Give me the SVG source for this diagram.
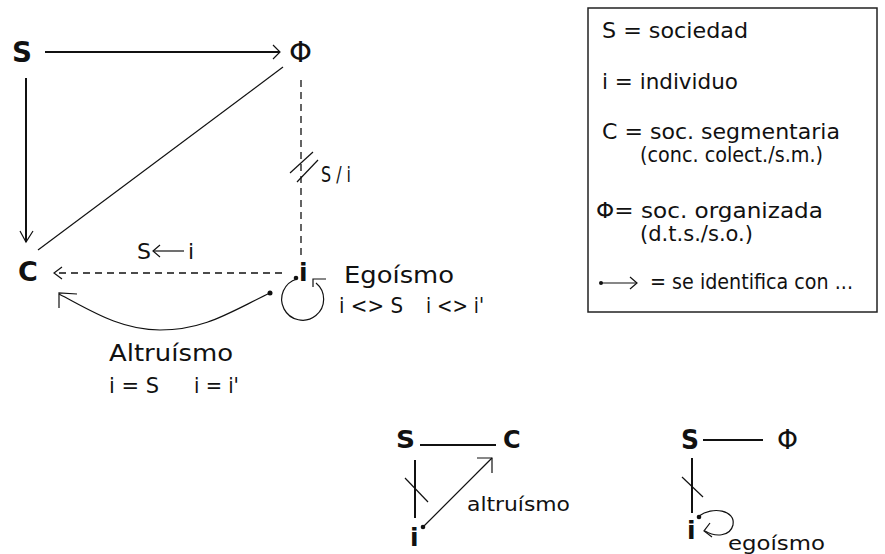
<svg xmlns="http://www.w3.org/2000/svg" width="885" height="554" viewBox="0 0 885 554">
<style>
.t{font-family:"DejaVu Sans","Liberation Sans",sans-serif;fill:#111;}
.b{font-family:"DejaVu Sans","Liberation Sans",sans-serif;font-weight:bold;fill:#111;}
.ln{stroke:#111;stroke-width:2;fill:none;}
.th{stroke:#111;stroke-width:1.2;fill:none;}
.ds{stroke:#111;stroke-width:1.3;fill:none;stroke-dasharray:7,5;}
</style>
<rect width="885" height="554" fill="#fff"/>
<g id="node-S"><text class="b" x="12" y="62" font-size="28" textLength="20" lengthAdjust="spacingAndGlyphs">S</text></g>
<g id="node-Phi"><text class="t" x="289" y="62" font-size="28" textLength="23" lengthAdjust="spacingAndGlyphs">Φ</text></g>
<g id="node-C"><text class="b" x="18" y="281" font-size="27">C</text></g>
<g id="node-i"><text class="b" x="299" y="281" font-size="25">i</text><circle cx="296" cy="278" r="2.3" fill="#111"/></g>
<g id="connectors">
<line class="ln" x1="45" y1="52" x2="280" y2="52"/>
<polyline class="th" points="273,45 280,52 273,59"/>
<line class="ln" x1="26" y1="78" x2="26" y2="242"/>
<polyline class="th" points="20,231 26,242 33,231"/>
<line class="th" x1="283" y1="67" x2="38" y2="250"/>
<line class="ds" x1="301" y1="80" x2="301" y2="258"/>
<line class="th" x1="290" y1="173" x2="313" y2="152"/>
<line class="th" x1="297" y1="182" x2="318" y2="160"/>
<line class="ds" x1="282" y1="273" x2="55" y2="273"/>
<polyline class="th" points="62,267 54,273 62,279"/>
<path class="th" d="M297,279 A21,21 0 1,0 316,283"/>
<polyline class="th" points="326,279 313,279 313,287"/>
<circle cx="270" cy="293" r="2.5" fill="#111"/>
<path class="th" d="M270,293 C230,312 205,330 160,330 C120,330 90,310 59,294"/>
<polyline class="th" points="77,294 59,293 59,308"/>
</g>
<g id="labels-main">
<text class="t" x="321" y="182" font-size="21" textLength="30" lengthAdjust="spacingAndGlyphs">S / i</text>
<text class="t" x="137" y="259" font-size="22">S</text>
<line class="th" x1="153" y1="251" x2="184" y2="251"/>
<polyline class="th" points="160,245 153,251 160,257"/>
<text class="t" x="188" y="259" font-size="22">i</text>
<text class="t" x="344" y="283" font-size="23" textLength="110" lengthAdjust="spacingAndGlyphs">Egoísmo</text>
<text class="t" x="339" y="313" font-size="22" textLength="64" lengthAdjust="spacingAndGlyphs">i &lt;&gt; S</text>
<text class="t" x="426" y="313" font-size="22" textLength="58" lengthAdjust="spacingAndGlyphs">i &lt;&gt; i'</text>
<text class="t" x="109" y="361" font-size="23" textLength="124" lengthAdjust="spacingAndGlyphs">Altruísmo</text>
<text class="t" x="109" y="393" font-size="22" textLength="50" lengthAdjust="spacingAndGlyphs">i = S</text>
<text class="t" x="194" y="393" font-size="22" textLength="45" lengthAdjust="spacingAndGlyphs">i = i'</text>
</g>
<g id="legend">
<rect x="588" y="8" width="289" height="304" fill="#fff" stroke="#222" stroke-width="1.5"/>
<text class="t" x="602" y="38" font-size="21" textLength="146" lengthAdjust="spacingAndGlyphs">S = sociedad</text>
<text class="t" x="602" y="89" font-size="21" textLength="136" lengthAdjust="spacingAndGlyphs">i = individuo</text>
<text class="t" x="602" y="139" font-size="21" textLength="238" lengthAdjust="spacingAndGlyphs">C = soc. segmentaria</text>
<text class="t" x="640" y="162" font-size="21" textLength="183" lengthAdjust="spacingAndGlyphs">(conc. colect./s.m.)</text>
<text class="t" x="596" y="218" font-size="21" textLength="227" lengthAdjust="spacingAndGlyphs">Φ= soc. organizada</text>
<text class="t" x="640" y="241" font-size="21" textLength="113" lengthAdjust="spacingAndGlyphs">(d.t.s./s.o.)</text>
<circle cx="601" cy="283" r="2" fill="#111"/>
<line class="th" x1="601" y1="283" x2="637" y2="283"/>
<polyline class="th" points="630,277 637,283 630,289"/>
<text class="t" x="650" y="289" font-size="21" textLength="203" lengthAdjust="spacingAndGlyphs">= se identifica con ...</text>
</g>
<g id="diagram-altruismo">
<text class="b" x="396" y="448" font-size="25" textLength="19" lengthAdjust="spacingAndGlyphs">S</text>
<text class="b" x="503" y="448" font-size="24">C</text>
<text class="b" x="410" y="546" font-size="25">i</text>
<line class="ln" x1="420" y1="445" x2="496" y2="445"/>
<line class="ln" x1="415" y1="460" x2="415" y2="518"/>
<line class="th" x1="405" y1="478" x2="428" y2="502"/>
<circle cx="423" cy="527" r="2.3" fill="#111"/>
<line class="th" x1="423" y1="527" x2="492" y2="458"/>
<polyline class="th" points="477,458 492,458 492,473"/>
<text class="t" x="467" y="511" font-size="19" textLength="103" lengthAdjust="spacingAndGlyphs">altruísmo</text>
</g>
<g id="diagram-egoismo">
<text class="b" x="681" y="449" font-size="26" textLength="18" lengthAdjust="spacingAndGlyphs">S</text>
<text class="t" x="777" y="449" font-size="26" textLength="21" lengthAdjust="spacingAndGlyphs">Φ</text>
<text class="b" x="687" y="539" font-size="25">i</text>
<line class="ln" x1="703" y1="440" x2="763" y2="440"/>
<line class="ln" x1="692" y1="458" x2="692" y2="513"/>
<line class="th" x1="682" y1="477" x2="703" y2="497"/>
<circle cx="699" cy="517" r="2.3" fill="#111"/>
<path class="th" d="M699,516 C712,506 736,510 733,525 C730,537 715,537 705,531"/>
<polyline class="th" points="710,523 704,531 712,537"/>
<text class="t" x="728" y="550" font-size="19" textLength="97" lengthAdjust="spacingAndGlyphs">egoísmo</text>
</g>
</svg>
